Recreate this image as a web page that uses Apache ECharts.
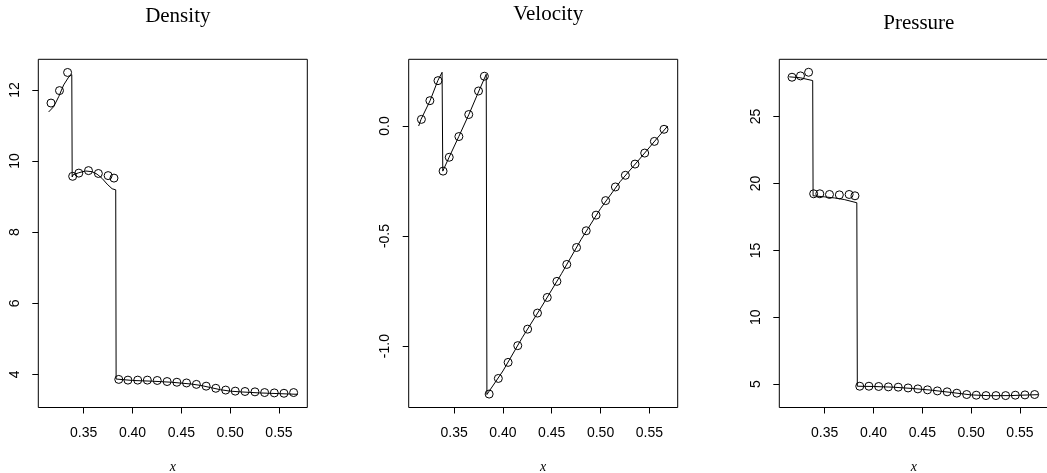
<!DOCTYPE html>
<html>
<head>
<meta charset="utf-8">
<script src="https://cdn.jsdelivr.net/npm/echarts@6/dist/echarts.min.js"></script>
<style>
  html, body { margin: 0; padding: 0; background: #fff; }
  #main { width: 1047px; height: 473px; }
</style>
</head>
<body>
<div id="main"></div>
<script>
// x positions of the coarse (circle) solution, shared by all three panels
var xCircles = [0.3165, 0.3252, 0.3335, 0.3387, 0.3450, 0.3549, 0.3650, 0.3750, 0.3810, 0.3859,
  0.3953, 0.4053, 0.4152, 0.4253, 0.4354, 0.4454, 0.4553, 0.4654, 0.4754, 0.4853,
  0.4954, 0.5052, 0.5152, 0.5254, 0.5353, 0.5452, 0.5551, 0.5650];

var densityCircles = [11.63, 11.98, 12.49, 9.57, 9.66, 9.73, 9.65, 9.59, 9.52, 3.86,
  3.84, 3.84, 3.84, 3.83, 3.80, 3.78, 3.76, 3.72, 3.67, 3.61,
  3.56, 3.53, 3.52, 3.51, 3.49, 3.48, 3.47, 3.49];
var velocityCircles = [0.030, 0.115, 0.206, -0.205, -0.142, -0.048, 0.052, 0.159, 0.226, -1.218,
  -1.147, -1.074, -0.998, -0.923, -0.850, -0.779, -0.706, -0.629, -0.552, -0.476,
  -0.405, -0.339, -0.277, -0.224, -0.173, -0.123, -0.070, -0.015];
var pressureCircles = [27.94, 28.04, 28.31, 19.23, 19.23, 19.18, 19.15, 19.18, 19.08, 4.85,
  4.85, 4.83, 4.80, 4.78, 4.72, 4.65, 4.58, 4.50, 4.43, 4.33,
  4.23, 4.18, 4.15, 4.15, 4.15, 4.18, 4.20, 4.23];

// fine (line) solutions
var densityLineX = [0.3141, 0.3193, 0.3244, 0.3295, 0.3346, 0.3378, 0.3382, 0.3390, 0.3449, 0.3518,
  0.3586, 0.3637, 0.3689, 0.3740, 0.3791, 0.3828, 0.3832, 0.3850, 0.4000, 0.4200,
  0.4400, 0.4600, 0.4700, 0.4800, 0.4900, 0.5000, 0.5100, 0.5300, 0.5500, 0.5693];
var densityLineY = [11.38, 11.53, 11.81, 12.14, 12.36, 12.43, 9.55, 9.61, 9.67, 9.72,
  9.70, 9.63, 9.51, 9.35, 9.22, 9.19, 3.87, 3.86, 3.83, 3.81,
  3.78, 3.73, 3.69, 3.63, 3.57, 3.53, 3.51, 3.48, 3.46, 3.44];

var velocityLineX = [0.3137, 0.3161, 0.3254, 0.3333, 0.3377, 0.3384, 0.3449, 0.3548, 0.3651, 0.3754,
  0.3829, 0.3836, 0.4000, 0.4200, 0.4400, 0.4600, 0.4800, 0.5000, 0.5200, 0.5400,
  0.5600, 0.5688];
var velocityLineY = [0.000, 0.030, 0.115, 0.206, 0.244, -0.205, -0.142, -0.048, 0.052, 0.159,
  0.235, -1.220, -1.113, -0.960, -0.818, -0.671, -0.516, -0.375, -0.253, -0.150,
  -0.045, 0.000];

var pressureLineX = [0.3137, 0.3250, 0.3377, 0.3381, 0.3500, 0.3600, 0.3700, 0.3829, 0.3834, 0.4000,
  0.4200, 0.4400, 0.4600, 0.4800, 0.5000, 0.5200, 0.5400, 0.5600, 0.5688];
var pressureLineY = [27.97, 27.90, 27.69, 19.08, 19.00, 18.92, 18.80, 18.56, 4.85, 4.83,
  4.78, 4.68, 4.55, 4.38, 4.20, 4.14, 4.15, 4.20, 4.22];

var titles = ['Density', 'Velocity', 'Pressure'];
var xTicks = [0.35, 0.40, 0.45, 0.50, 0.55];
var densityTicks = [4, 6, 8, 10, 12];
var velocityTicks = [-1.0, -0.5, 0.0];
var pressureTicks = [5, 10, 15, 20, 25];

function pairs(xs, ys) {
  return xs.map(function (x, i) { return [x, ys[i]]; });
}

var gridLefts = [38.3, 408.7, 779.3];
var gridW = 269;
var titleTops = [1, -1, 8];
var yRanges = [[3.07, 12.86], [-1.279, 0.303], [3.26, 29.28]];
var yTicks = [densityTicks, velocityTicks, pressureTicks];
var yFmt = [
  function (v) { return String(Math.round(v)); },
  function (v) { return (Math.abs(v) < 1e-9 ? 0 : v).toFixed(1); },
  function (v) { return String(Math.round(v)); }
];
var lines = [pairs(densityLineX, densityLineY), pairs(velocityLineX, velocityLineY), pairs(pressureLineX, pressureLineY)];
var circles = [pairs(xCircles, densityCircles), pairs(xCircles, velocityCircles), pairs(xCircles, pressureCircles)];

var labelFont = 'Liberation Sans, Arial, sans-serif';
var grids = [], xAxes = [], yAxes = [], series = [], titleOpts = [];

for (var i = 0; i < 3; i++) {
  grids.push({
    left: gridLefts[i], top: 59.3, width: gridW, height: 348.2,
    show: true, borderColor: '#000', borderWidth: 1, backgroundColor: 'transparent',
    outerBoundsMode: 'none', containLabel: false
  });
  titleOpts.push({
    text: titles[i], left: gridLefts[i] + gridW / 2, top: titleTops[i], textAlign: 'center',
    textStyle: { fontFamily: 'Liberation Serif, serif', fontSize: 21, fontWeight: 'normal', color: '#000' }
  });
  xAxes.push({
    type: 'value', gridIndex: i, min: 0.3035, max: 0.579,
    axisLine: { show: false, onZero: false },
    splitLine: { show: false },
    axisTick: { show: true, customValues: xTicks, length: 6, lineStyle: { color: '#000', width: 1 } },
    axisLabel: {
      customValues: xTicks, margin: 18.5, color: '#000', fontSize: 14, fontFamily: labelFont,
      formatter: function (v) { return v.toFixed(2); }
    },
    name: 'x', nameLocation: 'middle', nameGap: 53,
    nameTextStyle: { fontFamily: 'Liberation Serif, serif', fontStyle: 'italic', fontSize: 14, color: '#000' }
  });
  yAxes.push({
    type: 'value', gridIndex: i, min: yRanges[i][0], max: yRanges[i][1],
    axisLine: { show: false, onZero: false },
    splitLine: { show: false },
    axisTick: { show: true, customValues: yTicks[i], length: 6, lineStyle: { color: '#000', width: 1 } },
    axisLabel: {
      customValues: yTicks[i], rotate: 90, margin: 16.5, color: '#000', fontSize: 14, fontFamily: labelFont,
      formatter: yFmt[i]
    }
  });
  series.push({
    type: 'line', xAxisIndex: i, yAxisIndex: i, data: lines[i],
    showSymbol: false, symbol: 'none', animation: false, silent: true,
    lineStyle: { color: '#000', width: 1 }
  });
  series.push({
    type: 'scatter', xAxisIndex: i, yAxisIndex: i, data: circles[i],
    symbol: 'circle', symbolSize: 8, animation: false, silent: true,
    itemStyle: { color: 'rgba(0,0,0,0)', borderColor: '#000', borderWidth: 1, opacity: 1 }
  });
}

var chart = echarts.init(document.getElementById('main'), null, { renderer: 'canvas' });
chart.setOption({
  backgroundColor: '#fff',
  animation: false,
  title: titleOpts,
  grid: grids,
  xAxis: xAxes,
  yAxis: yAxes,
  series: series
});
</script>
</body>
</html>
